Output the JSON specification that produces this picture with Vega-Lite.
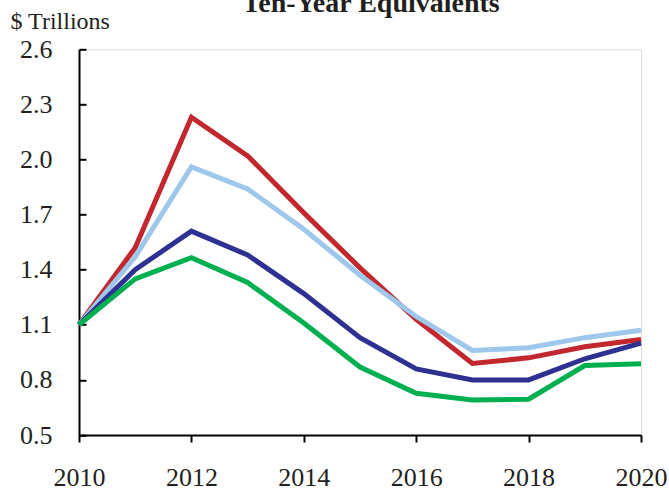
{
  "$schema": "https://vega.github.io/schema/vega-lite/v6.json",
  "width": 562,
  "height": 385.7,
  "autosize": "none",
  "padding": {"left": 79, "top": 49.3, "right": 28, "bottom": 56},
  "background": "white",
  "title": {
    "text": "Ten-Year Equivalents",
    "font": "Times New Roman, Liberation Serif, serif",
    "fontSize": 28,
    "fontWeight": "bold",
    "color": "#231f20",
    "anchor": "middle",
    "frame": "group",
    "baseline": "alphabetic",
    "offset": -31,
    "dx": 11
  },
  "data": {
    "values": [
      {"year": 2010, "series": "Series 1", "value": 1.10},
      {"year": 2011, "series": "Series 1", "value": 1.52},
      {"year": 2012, "series": "Series 1", "value": 2.23},
      {"year": 2013, "series": "Series 1", "value": 2.02},
      {"year": 2014, "series": "Series 1", "value": 1.71},
      {"year": 2015, "series": "Series 1", "value": 1.41},
      {"year": 2016, "series": "Series 1", "value": 1.13},
      {"year": 2017, "series": "Series 1", "value": 0.89},
      {"year": 2018, "series": "Series 1", "value": 0.92},
      {"year": 2019, "series": "Series 1", "value": 0.98},
      {"year": 2020, "series": "Series 1", "value": 1.02},
      {"year": 2010, "series": "Series 2", "value": 1.10},
      {"year": 2011, "series": "Series 2", "value": 1.47},
      {"year": 2012, "series": "Series 2", "value": 1.96},
      {"year": 2013, "series": "Series 2", "value": 1.84},
      {"year": 2014, "series": "Series 2", "value": 1.62},
      {"year": 2015, "series": "Series 2", "value": 1.37},
      {"year": 2016, "series": "Series 2", "value": 1.145},
      {"year": 2017, "series": "Series 2", "value": 0.96},
      {"year": 2018, "series": "Series 2", "value": 0.975},
      {"year": 2019, "series": "Series 2", "value": 1.03},
      {"year": 2020, "series": "Series 2", "value": 1.07},
      {"year": 2010, "series": "Series 3", "value": 1.10},
      {"year": 2011, "series": "Series 3", "value": 1.40},
      {"year": 2012, "series": "Series 3", "value": 1.61},
      {"year": 2013, "series": "Series 3", "value": 1.48},
      {"year": 2014, "series": "Series 3", "value": 1.27},
      {"year": 2015, "series": "Series 3", "value": 1.03},
      {"year": 2016, "series": "Series 3", "value": 0.86},
      {"year": 2017, "series": "Series 3", "value": 0.80},
      {"year": 2018, "series": "Series 3", "value": 0.80},
      {"year": 2019, "series": "Series 3", "value": 0.915},
      {"year": 2020, "series": "Series 3", "value": 1.00},
      {"year": 2010, "series": "Series 4", "value": 1.10},
      {"year": 2011, "series": "Series 4", "value": 1.35},
      {"year": 2012, "series": "Series 4", "value": 1.465},
      {"year": 2013, "series": "Series 4", "value": 1.33},
      {"year": 2014, "series": "Series 4", "value": 1.11},
      {"year": 2015, "series": "Series 4", "value": 0.87},
      {"year": 2016, "series": "Series 4", "value": 0.727},
      {"year": 2017, "series": "Series 4", "value": 0.69},
      {"year": 2018, "series": "Series 4", "value": 0.695},
      {"year": 2019, "series": "Series 4", "value": 0.878},
      {"year": 2020, "series": "Series 4", "value": 0.888}
    ]
  },
  "mark": {"type": "line", "strokeWidth": 5, "strokeJoin": "miter", "strokeCap": "butt", "clip": false},
  "encoding": {
    "x": {
      "field": "year",
      "type": "quantitative",
      "scale": {"domain": [2010, 2020], "nice": false, "zero": false},
      "axis": {
        "values": [2010, 2012, 2014, 2016, 2018, 2020],
        "format": "d",
        "title": null,
        "grid": false,
        "domainColor": "#000000",
        "domainWidth": 2,
        "tickColor": "#000000",
        "tickWidth": 2,
        "tickSize": 7,
        "labelPadding": 22,
        "labelFont": "Times New Roman, Liberation Serif, serif",
        "labelFontSize": 26,
        "labelColor": "#231f20",
        "labelBaseline": "top",
        "labelFlush": false,
        "labelOverlap": false
      }
    },
    "y": {
      "field": "value",
      "type": "quantitative",
      "scale": {"domain": [0.5, 2.6], "nice": false, "zero": false},
      "axis": {
        "values": [0.5, 0.8, 1.1, 1.4, 1.7, 2.0, 2.3, 2.6],
        "format": ".1f",
        "title": "$ Trillions",
        "titleAngle": 0,
        "titleAlign": "left",
        "titleBaseline": "alphabetic",
        "titleX": -69,
        "titleY": -21,
        "titleFont": "Times New Roman, Liberation Serif, serif",
        "titleFontSize": 24,
        "titleFontWeight": "normal",
        "titleColor": "#231f20",
        "grid": false,
        "domainColor": "#000000",
        "domainWidth": 2,
        "tickColor": "#000000",
        "tickWidth": 2,
        "tickSize": -7,
        "labelPadding": 34,
        "labelFont": "Times New Roman, Liberation Serif, serif",
        "labelFontSize": 26,
        "labelColor": "#231f20",
        "labelFlush": false,
        "labelOverlap": false
      }
    },
    "color": {
      "field": "series",
      "type": "nominal",
      "scale": {
        "domain": ["Series 1", "Series 2", "Series 3", "Series 4"],
        "range": ["#C1272D", "#9DC8EB", "#2E3192", "#00B050"]
      },
      "legend": null
    }
  }
}
